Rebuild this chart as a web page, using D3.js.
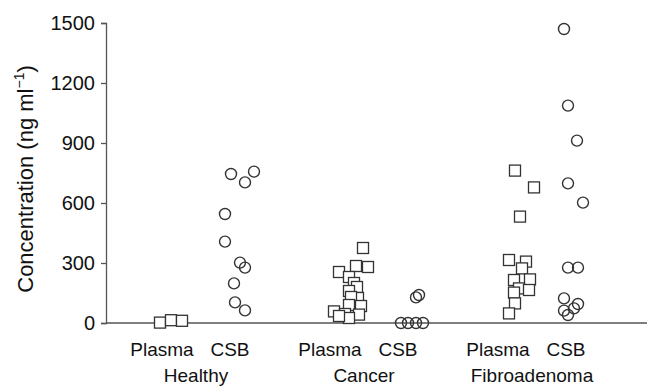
<!DOCTYPE html>
<html>
<head>
<meta charset="utf-8">
<script src="https://cdn.jsdelivr.net/npm/d3@7"></script>
<style>
  body { margin: 0; background: #fff; }
  text { font-family: "Liberation Sans", Arial, Helvetica, sans-serif; fill: #111; }
</style>
</head>
<body>
<div id="chart"></div>
<script>
var groups = ["Healthy", "Cancer", "Fibroadenoma"];
var sampleTypes = ["Plasma", "CSB"];
var yTicks = [0, 300, 600, 900, 1200, 1500];

// concentrations (ng/ml), with horizontal jitter (1 = 10px)
var healthyPlasma = [2, 14, 11];
var healthyPlasmaJitter = [-0.2, 0.9, 2.0];
var healthyCSB = [745, 757, 703, 545, 407, 302, 277, 198, 103, 63];
var healthyCSBJitter = [0.1, 2.4, 1.5, -0.5, -0.5, 1.0, 1.5, 0.4, 0.5, 1.5];
var cancerPlasma = [375, 255, 285, 280, 230, 200, 180, 160, 125, 130, 85, 90, 58, 45, 42, 25, 35];
var cancerPlasmaJitter = [3.3, 0.9, 2.6, 3.8, 1.9, 2.4, 2.7, 1.9, 2.8, 2.1, 3.1, 1.9, 0.4, 1.5, 2.9, 1.9, 0.9];
var cancerCSB = [128, 140, 0, 0, 0, 0];
var cancerCSBJitter = [1.8, 2.1, 0.3, 1.0, 1.8, 2.5];
var fibroPlasma = [762, 678, 532, 315, 307, 273, 215, 218, 173, 165, 152, 98, 48];
var fibroPlasmaJitter = [1.7, 3.6, 2.2, 1.1, 2.8, 2.4, 1.6, 3.2, 2.1, 3.1, 1.6, 1.7, 1.1];
var fibroCSB = [1470, 1087, 912, 698, 602, 277, 277, 123, 95, 73, 62, 40];
var fibroCSBJitter = [-0.2, 0.2, 1.1, 0.2, 1.7, 0.2, 1.2, -0.2, 1.2, 0.8, -0.2, 0.2];

var series = [
  { group: "Healthy", type: "Plasma", values: healthyPlasma, jitter: healthyPlasmaJitter },
  { group: "Healthy", type: "CSB", values: healthyCSB, jitter: healthyCSBJitter },
  { group: "Cancer", type: "Plasma", values: cancerPlasma, jitter: cancerPlasmaJitter },
  { group: "Cancer", type: "CSB", values: cancerCSB, jitter: cancerCSBJitter },
  { group: "Fibroadenoma", type: "Plasma", values: fibroPlasma, jitter: fibroPlasmaJitter },
  { group: "Fibroadenoma", type: "CSB", values: fibroCSB, jitter: fibroCSBJitter }
];

var width = 647, height = 388;
var axisX = 106, axisY = 323, topY = 23;

var svg = d3.select('#chart').append('svg')
  .attr('width', width)
  .attr('height', height);

var y = d3.scaleLinear().domain([0, 1500]).range([axisY, topY]);
var xGroup = d3.scaleBand().domain(groups).range([112, 616]);
var xType = d3.scalePoint().domain(sampleTypes).range([xGroup.bandwidth() / 2 - 34, xGroup.bandwidth() / 2 + 34]);
var jx = d3.scaleLinear().domain([0, 1]).range([0, 10]);

function colX(g, t) { return xGroup(g) + xType(t); }

// y axis
var yAxis = svg.append('g')
  .attr('transform', 'translate(' + axisX + ',0)')
  .call(d3.axisLeft(y).tickValues(yTicks).tickFormat(d3.format('d')).tickSize(5).tickPadding(6));
yAxis.select('.domain').attr('stroke', '#555').attr('stroke-width', 1.3);
yAxis.selectAll('.tick line').attr('stroke', '#555').attr('stroke-width', 1.3);
yAxis.selectAll('.tick text')
  .attr('font-size', 20)
  .attr('font-family', '"Liberation Sans", Arial, sans-serif')
  .attr('fill', '#111');

// x axis baseline
svg.append('line')
  .attr('x1', axisX).attr('x2', width)
  .attr('y1', y(0)).attr('y2', y(0))
  .attr('stroke', '#555').attr('stroke-width', 1.6);

// y label
var yl = svg.append('text')
  .attr('transform', 'translate(33,' + ((axisY + topY) / 2 + 6) + ') rotate(-90)')
  .attr('text-anchor', 'middle')
  .attr('font-size', 22);
yl.append('tspan').text('Concentration (ng ml');
yl.append('tspan').text('\u22121').attr('font-size', 14).attr('dy', -9);
yl.append('tspan').text(')').attr('dy', 9);

// points
series.forEach(function(s) {
  var pts = s.values.map(function(v, i) { return { v: v, j: s.jitter[i] }; });
  var cx = colX(s.group, s.type);
  if (s.type === 'Plasma') {
    svg.append('g').selectAll('rect')
      .data(pts)
      .enter()
      .append('rect')
        .attr('x', function(d) { return cx + jx(d.j) - 5.5; })
        .attr('y', function(d) { return y(d.v) - 5.5; })
        .attr('width', 11)
        .attr('height', 11)
        .attr('fill', '#fff')
        .attr('stroke', '#333')
        .attr('stroke-width', 1.3);
  } else {
    svg.append('g').selectAll('circle')
      .data(pts)
      .enter()
      .append('circle')
        .attr('cx', function(d) { return cx + jx(d.j); })
        .attr('cy', function(d) { return y(d.v); })
        .attr('r', 5.5)
        .attr('fill', 'none')
        .attr('stroke', '#333')
        .attr('stroke-width', 1.4);
  }
});

// category labels
series.forEach(function(s) {
  svg.append('text')
    .attr('x', colX(s.group, s.type))
    .attr('y', 356)
    .attr('text-anchor', 'middle')
    .attr('font-size', 19)
    .text(s.type);
});
svg.selectAll('text.group')
  .data(groups)
  .enter()
  .append('text')
    .attr('class', 'group')
    .attr('x', function(d) { return xGroup(d) + xGroup.bandwidth() / 2; })
    .attr('y', 382)
    .attr('text-anchor', 'middle')
    .attr('font-size', 19)
    .text(function(d) { return d; });
</script>
</body>
</html>
